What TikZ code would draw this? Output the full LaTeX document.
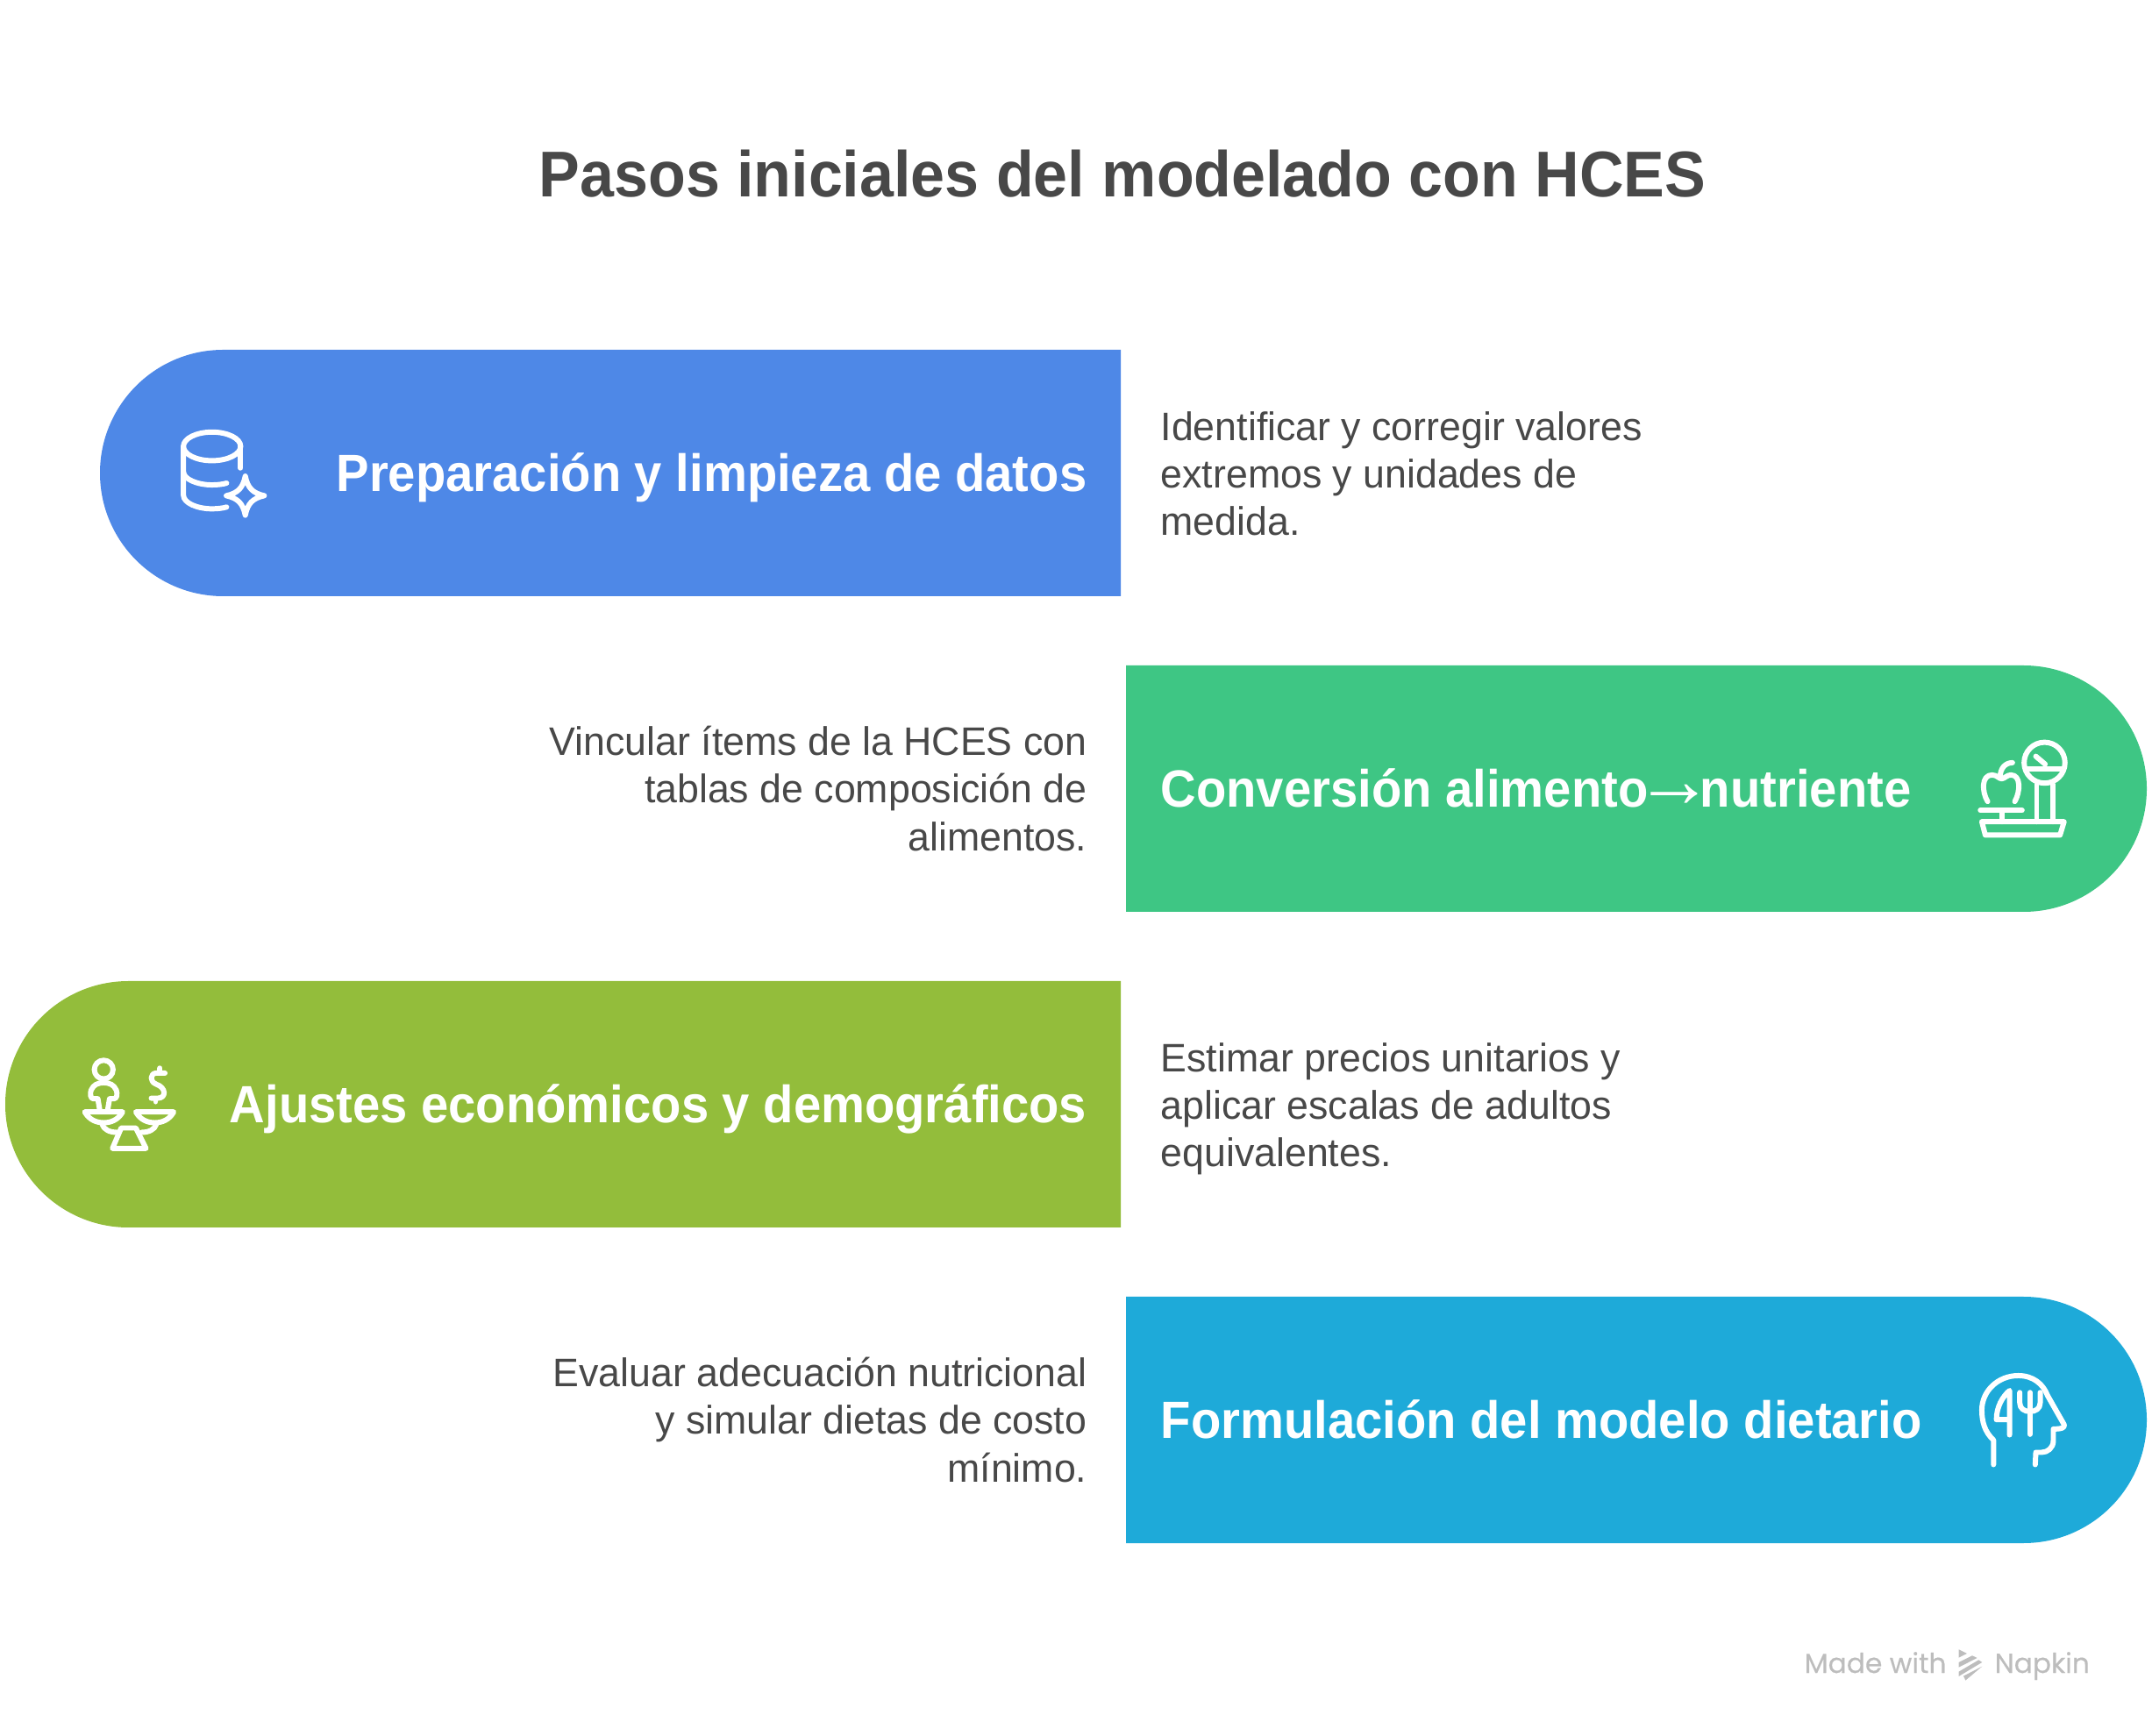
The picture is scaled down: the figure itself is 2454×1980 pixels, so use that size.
\documentclass[tikz,border=0pt]{standalone}
\usepackage{fontspec}
\setmainfont{Liberation Sans}
\newfontfamily\titlefont[FakeStretch=0.948]{Liberation Sans Bold}
\newfontfamily\headfont[FakeStretch=0.94]{Liberation Sans Bold}
\newfontfamily\bodyfont[FakeStretch=0.985]{Liberation Sans}
\newfontfamily\logofont[FakeBold=0.4]{Poppins}
\definecolor{bandblue}{HTML}{4E88E7}
\definecolor{bandgreen}{HTML}{3EC684}
\definecolor{bandolive}{HTML}{93BD3B}
\definecolor{bandcyan}{HTML}{1EAAD9}
\definecolor{inkgray}{HTML}{484848}
\definecolor{logogray}{HTML}{BDBDBD}
\tikzset{
  titlelabel/.style={inner sep=0pt,text=inkgray,font=\fontsize{21}{24}\titlefont},
  headlabel/.style={inner sep=0pt,text=white,text height=12.2pt,text depth=0pt,font=\fontsize{17}{20}\headfont},
  bodyleft/.style={inner sep=0pt,anchor=west,align=left,text=inkgray,font=\fontsize{12.9}{15.4}\bodyfont},
  bodyright/.style={inner sep=0pt,anchor=east,align=right,text=inkgray,font=\fontsize{12.9}{15.4}\bodyfont},
  logolabel/.style={inner sep=0pt,anchor=base west,text=logogray,font=\fontsize{8.9}{11}\logofont},
  iconline/.style={draw=white,line width=1.7pt,line cap=round,line join=round},
  icongrid/.style={x=0.003333cm,y=-0.003333cm}
}
\begin{document}
\begin{tikzpicture}[x=0.01cm,y=-0.01cm]
\useasboundingbox (0,0) rectangle (2454,1980);
\node[titlelabel] (title) at (1280,198) {Pasos iniciales del modelado con HCES};

\fill[bandblue] (1278,399) -- (254.5,399) arc[start angle=270,end angle=90,radius=140.5] -- (1278,680) -- cycle;
\fill[bandgreen] (1284,759) -- (2307.5,759) arc[start angle=270,end angle=450,radius=140.5] -- (1284,1040) -- cycle;
\fill[bandolive] (1278,1119) -- (146.5,1119) arc[start angle=270,end angle=90,radius=140.5] -- (1278,1400) -- cycle;
\fill[bandcyan] (1284,1479) -- (2307.5,1479) arc[start angle=270,end angle=450,radius=140.5] -- (1284,1760) -- cycle;

\node[headlabel,anchor=east] (datos) at (1240,539.5) {Preparación y limpieza de datos};
\node[headlabel,anchor=west] (conversion) at (1323,899.5) {Conversión alimento{\normalfont\fontsize{25.5}{20}\selectfont\hspace{-4.3pt}→\hspace{-4.3pt}}nutriente};
\node[headlabel,anchor=east] (ajustes) at (1240,1259.5) {Ajustes económicos y demográficos};
\node[headlabel,anchor=west] (modelo) at (1323,1619.5) {Formulación del modelo dietario};

\node[bodyleft] (datostext) at (1323,540) {Identificar y corregir valores\\extremos y unidades de\\medida.};
\node[bodyright] (conversiontext) at (1240,899.5) {Vincular ítems de la HCES con\\tablas de composición de\\alimentos.};
\node[bodyleft] (ajustestext) at (1323,1264.5) {Estimar precios unitarios y\\aplicar escalas de adultos\\equivalentes.};
\node[bodyright] (modelotext) at (1240,1619.5) {Evaluar adecuación nutricional\\y simular dietas de costo\\mínimo.};

\begin{scope}[shift={(100,380)},icongrid]
\draw[iconline] (426,388) ellipse [x radius=98,y radius=49];
\draw[iconline] (328,388) -- (328,555) .. controls (328,582) and (375,602) .. (426,602) .. controls (445,602) and (462,600) .. (476,596);
\draw[iconline] (328,475) .. controls (328,500) and (375,520) .. (426,520) .. controls (445,520) and (462,518) .. (476,514);
\draw[iconline] (524,388) -- (524,462);
\draw[iconline] (540,490) .. controls (548,530) and (565,548) .. (605,557) .. controls (565,566) and (548,584) .. (540,624) .. controls (532,584) and (515,566) .. (475,557) .. controls (515,548) and (532,530) .. (540,490) -- cycle;
\end{scope}

\begin{scope}[shift={(2200,820)},icongrid]
\draw[iconline] (395,150) circle [radius=70];
\draw[iconline] (330,172) -- (460,172);
\draw[iconline] (365,128) -- (397,155);
\draw[iconline] (368,225) -- (368,352);
\draw[iconline] (425,225) -- (425,352);
\draw[iconline] (180,352) -- (462,352) -- (448,398) -- (192,398) -- cycle;
\draw[iconline] (175,313) -- (318,313);
\draw[iconline] (248,313) -- (248,352);
\draw[iconline] (200,283) .. controls (180,250) and (178,192) .. (215,192) .. controls (232,192) and (238,205) .. (248,205) .. controls (258,205) and (265,192) .. (280,192) .. controls (315,192) and (312,250) .. (293,283);
\draw[iconline] (243,198) .. controls (243,170) and (260,150) .. (285,150);
\end{scope}

\begin{scope}[shift={(70,1190)},icongrid]
\draw[iconline] (145,90) circle [radius=32];
\draw[iconline] (132,232) -- (125,190) -- (110,190) .. controls (98,190) and (98,170) .. (102,160) .. controls (110,142) and (125,135) .. (145,135) .. controls (165,135) and (180,142) .. (188,160) .. controls (192,170) and (192,190) .. (180,190) -- (165,190) -- (158,232);
\draw[iconline] (80,235) -- (210,235) .. controls (195,262) and (170,272) .. (145,272) .. controls (120,272) and (95,262) .. (80,235) -- cycle;
\draw[iconline] (255,235) -- (385,235) .. controls (370,262) and (345,272) .. (320,272) .. controls (295,272) and (270,262) .. (255,235) -- cycle;
\draw[iconline] (140,278) .. controls (145,295) and (165,305) .. (190,305);
\draw[iconline] (325,278) .. controls (320,295) and (300,305) .. (275,305);
\draw[iconline] (205,290) -- (255,290) -- (290,360) -- (175,360) -- cycle;
\draw[iconline] (355,102) -- (325,102) .. controls (305,102) and (300,130) .. (325,140) .. controls (360,152) and (360,188) .. (330,188) -- (308,188);
\draw[iconline] (338,85) -- (338,100);
\draw[iconline] (323,190) -- (323,200);
\end{scope}

\begin{scope}[shift={(2220,1550)},icongrid]
\draw[iconline] (160,362) -- (160,278) .. controls (130,250) and (120,215) .. (120,175) .. controls (120,110) and (175,57) .. (245,57) .. controls (295,57) and (330,85) .. (345,125) -- (402,225) .. controls (405,235) and (395,240) .. (365,240) -- (365,280) .. controls (365,305) and (345,320) .. (325,320) -- (305,320) -- (303,362);
\draw[iconline] (215,260) -- (215,108) .. controls (190,130) and (170,165) .. (170,208) -- (215,208);
\draw[iconline] (250,115) -- (250,150) .. controls (250,170) and (265,180) .. (285,180) .. controls (305,180) and (320,170) .. (320,150) -- (320,115);
\draw[iconline] (285,115) -- (285,258);
\end{scope}

\node[logolabel] (madewith) at (2057,1908) {Made with};
\node[logolabel] (napkin) at (2274,1908) {Napkin};
\begin{scope}[shift={(2040,1860)},icongrid]
\fill[logogray] (582,64) -- (610,78) -- (582,92) -- cycle;
\fill[logogray] (582,108) -- (628,85) -- (645,93) -- (582,125) -- cycle;
\fill[logogray] (582,140) -- (650,100) -- (662,108) -- (582,156) -- cycle;
\fill[logogray] (605,170) -- (598,155) -- (662,122) -- cycle;
\end{scope}
\end{tikzpicture}
\end{document}
